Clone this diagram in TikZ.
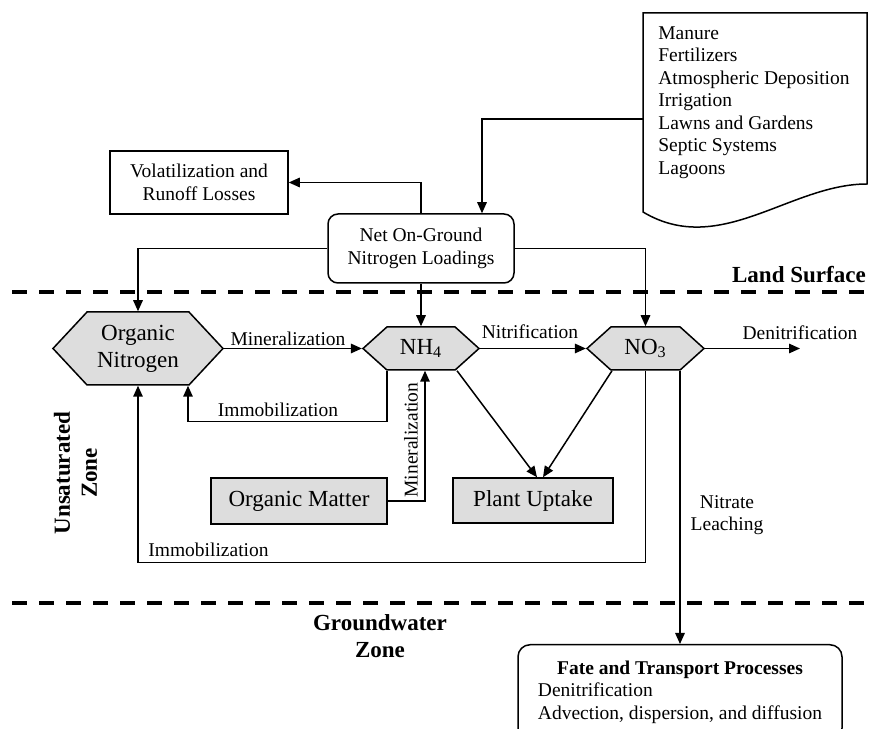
\documentclass[tikz,border=0pt]{standalone}
\usepackage{fontspec}
\setmainfont{Liberation Serif}
\usetikzlibrary{arrows.meta,calc,shapes.symbols}
\definecolor{boxgray}{RGB}{221,221,221}
\newcommand\smfont{\fontsize{11.1}{12.8}\selectfont}
\newcommand\lgfont{\fontsize{13.1}{15.4}\selectfont}
\tikzset{
	arr/.style={-{Triangle[length=2.2mm,width=1.9mm]},line width=0.3mm},
	hexnode/.style={shape=signal,signal to=west and east,draw,line width=0.3mm,fill=boxgray,font=\lgfont,inner sep=0pt,align=center},
	graybox/.style={draw,line width=0.3mm,fill=boxgray,font=\lgfont,inner sep=0pt},
	plainbox/.style={draw,line width=0.3mm,font=\smfont,align=center,inner sep=0pt},
	zoneline/.style={line width=0.8mm,dash pattern=on 3mm off 2.4mm},
	zonelabel/.style={font=\lgfont\bfseries,align=center},
	lbl/.style={font=\smfont,inner sep=0pt}
}

\begin{document}
\begin{tikzpicture}[x=0.2mm,y=-0.2mm]
			%%%%% START %%%%%
			\useasboundingbox (0,0) rectangle (874,729);
			\clip (0,0) rectangle (874,729);
			
			\draw[zoneline] (12,292) -- (874,292);
			\draw[zoneline] (12,603) -- (874,603);
			\node[zonelabel, anchor=east] (land) at (872,275) {Land Surface};
			\node[zonelabel, rotate=90] (unsat) at (75.5,473) {Unsaturated\\Zone};
			\node[zonelabel] (ground) at (380,636.5) {Groundwater\\Zone};
			
			% sources
			\draw[line width=0.3mm] (643,13) -- (867,13) -- (867,184) .. controls (790,184) and (720,258) .. (643,212) -- cycle;
			\node[lbl, anchor=north west, align=left] (src) at (658,26) {Manure\\Fertilizers\\Atmospheric Deposition\\Irrigation\\Lawns and Gardens\\Septic Systems\\Lagoons};
			\coordinate (srcw) at (643,119);
			
			\node[plainbox, minimum width=35.6mm, minimum height=12.6mm] (vol) at (199,182.5) {Volatilization and\\Runoff Losses};
			\node[plainbox, rounded corners=2mm, minimum width=37.2mm, minimum height=13.8mm] (net) at (421,248.5) {Net On-Ground\\Nitrogen Loadings};
			
			\node[hexnode, signal pointer angle=94, minimum width=34mm, minimum height=14.6mm] (orgN) at (138,348.5) {Organic\\Nitrogen};
			\node[hexnode, signal pointer angle=84, minimum width=23.2mm, minimum height=8.6mm] (nh4) at (421,348.5) {NH\textsubscript{4}};
			\node[hexnode, signal pointer angle=84, minimum width=23.4mm, minimum height=8.6mm] (no3) at (645.5,348.5) {NO\textsubscript{3}};
			\coordinate (denit) at (800,348.5);
			
			\node[graybox, minimum width=35.2mm, minimum height=9.2mm] (orgM) at (299,501) {Organic Matter};
			\node[graybox, minimum width=32mm, minimum height=9mm] (plant) at (533,500.5) {Plant Uptake};
			
			\node[plainbox, rounded corners=2.4mm, anchor=north, minimum width=64.8mm, inner ysep=2.8mm] (fate) at (680,644) {\begin{tabular}{@{}l@{}}\multicolumn{1}{c}{\bfseries Fate and Transport Processes}\\Denitrification\\Advection, dispersion, and diffusion\end{tabular}};
			
			% labels
			\node[lbl] (minlbl) at (288,339) {Mineralization};
			\node[lbl] (nitlbl) at (530,332) {Nitrification};
			\node[lbl] (denitlbl) at (800,333) {Denitrification};
			\node[lbl] (immlbl) at (278,410) {Immobilization};
			\node[lbl, anchor=west] (immlbl2) at (148,550) {Immobilization};
			\node[lbl, rotate=90] (minlbl2) at (411,440) {Mineralization};
			\node[lbl, align=center] (leach) at (727,515) {Nitrate\\Leaching};
			
			% connectors
			\draw[arr] (net.north) |- (vol.east);
			\draw[arr] (srcw) -| ($(net.north)+(61,0)$);
			\draw[arr] (net.west) -| (orgN.north);
			\draw[arr] (net.east) -| (no3.north);
			\draw[arr] (net.south) -- (nh4.north);
			\draw[arr] (orgN.east) -- (nh4.west);
			\draw[arr] (nh4.east) -- (no3.west);
			\draw[arr] (no3.east) -- (denit);
			\draw[arr] ($(nh4.south)+(-34,0)$) -- ++(0,51) -| ($(orgN.south)+(50,0)$);
			\draw[arr] (orgM.east) -| ($(nh4.south)+(4,0)$);
			\draw[arr] ($(nh4.south)+(36,0)$) -- ($(plant.north)+(4,0)$);
			\draw[arr] ($(no3.south)+(-33.5,0)$) -- ($(plant.north)+(10,0)$);
			\draw[arr] (no3.south) -- ++(0,192) -| (orgN.south);
			\draw[arr] (fate.north |- no3.south) -- (fate.north);
			
			%%%%% END %%%%%
\end{tikzpicture}
\end{document}
